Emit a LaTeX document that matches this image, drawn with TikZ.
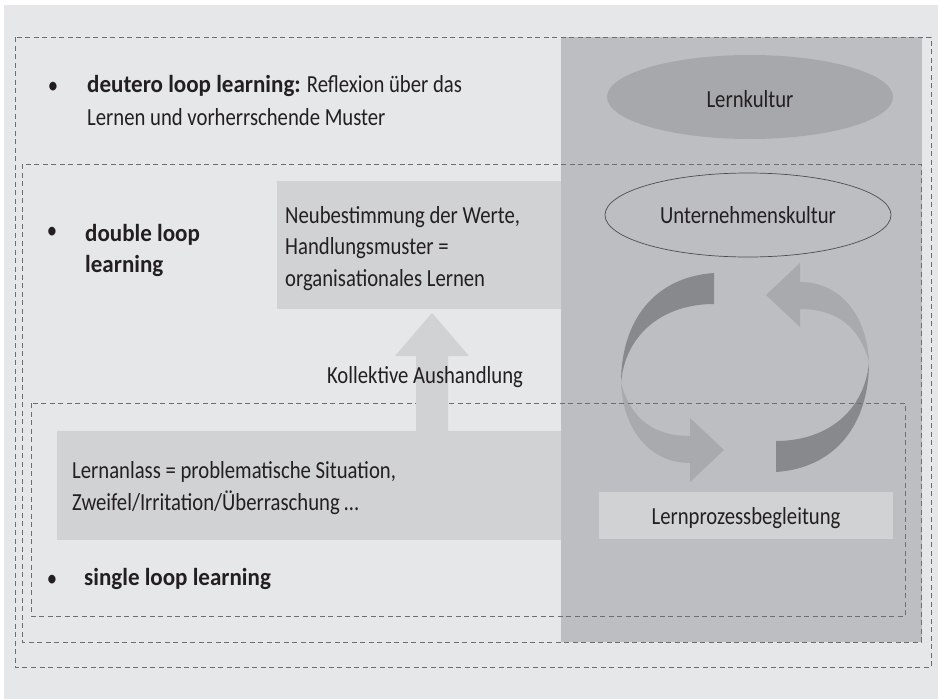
\documentclass[tikz,border=0pt]{standalone}
\usepackage{fontspec}
\setmainfont{Carlito}[FakeStretch=0.845,BoldFeatures={FakeStretch=0.94}]
\usetikzlibrary{shapes.geometric,calc}
\definecolor{bgc}{HTML}{E6E7E8}
\definecolor{panelc}{HTML}{BDBEC1}
\definecolor{boxc}{HTML}{D1D2D4}
\definecolor{lkc}{HTML}{A7A8AB}
\definecolor{darkrib}{HTML}{88898C}
\definecolor{lightrib}{HTML}{A9AAAD}
\definecolor{dashc}{HTML}{6D6E71}
\definecolor{txtc}{HTML}{231F20}
\begin{document}
\begin{tikzpicture}[x=1pt,y=-1pt,
  txt/.style={inner sep=0pt,anchor=base west,text=txtc,font=\fontsize{24.5}{31.5}\selectfont},
  ctxt/.style={txt,anchor=base},
  dashbox/.style={draw=dashc,line width=0.9pt,dash pattern=on 5pt off 3.5pt},
  boxn/.style={fill=boxc,inner sep=0pt,outer sep=0pt,anchor=north west},
  ell/.style={ellipse,inner sep=0pt,minimum width=286pt,minimum height=84pt}]
\useasboundingbox (0,0) rectangle (938,699);
\fill[white] (0,0) rectangle (938,699);
\fill[bgc] (4,5) rectangle (938,699);
% right panel
\fill[panelc] (561,37) rectangle (922,642);
% ellipses
\node[ell,fill=lkc] (lk) at (750,97) {};
\node[ell,draw=txtc!80,line width=0.7pt] (uk) at (748,215) {};
% ribbon cycle
\begin{scope}
\fill[darkrib] (714,273) .. controls (655,277) and (621,320) .. (621,383)
  .. controls (625,335) and (662,304) .. (714,304) -- cycle;
\fill[lightrib] (621,383) .. controls (623,430) and (650,463) .. (690,463)
  -- (690,482) -- (724,450) -- (690,418) -- (690,436)
  .. controls (655,436) and (631,420) .. (621,383) -- cycle;
\end{scope}
\begin{scope}[rotate around={180:(745,372.5)}]
\fill[darkrib] (714,273) .. controls (655,277) and (621,320) .. (621,383)
  .. controls (625,335) and (662,304) .. (714,304) -- cycle;
\fill[lightrib] (621,383) .. controls (623,430) and (650,463) .. (690,463)
  -- (690,482) -- (724,450) -- (690,418) -- (690,436)
  .. controls (655,436) and (631,420) .. (621,383) -- cycle;
\end{scope}
% dashed frames
\draw[dashbox] (15,37) rectangle (931,667);
\draw[dashbox] (22,164) rectangle (921,642);
\draw[dashbox] (31,403) rectangle (905,616);
% boxes
\node[boxn,minimum width=284pt,minimum height=128pt] (neu) at (277,181) {};
\node[boxn,minimum width=504pt,minimum height=109pt] (lan) at (57,431) {};
\node[boxn,minimum width=294pt,minimum height=47pt] (lpb) at (599,492) {};
% up arrow from Lernanlass to Neubestimmung
\coordinate (ua0) at ($(lan.north west)+(375,0)$);
\coordinate (ua1) at ($(neu.south west)+(155,4)$);
\fill[boxc] ($(ua0)+(-16,0)$) -- ($(ua1)+(-16,43)$) -- ($(ua1)+(-37,43)$) -- (ua1)
  -- ($(ua1)+(37,43)$) -- ($(ua1)+(16,43)$) -- ($(ua0)+(16,0)$) -- cycle;
% texts
\node[ctxt] (b1) at (53,93) {\textbullet};
\node[txt] (t1a) at (87,92) {\textbf{deutero loop learning:} Reflexion über das};
\node[txt] (t1b) at (87,125) {Lernen und vorherrschende Muster};
\node[ctxt] (b2) at (52,238) {\textbullet};
\node[txt] (t2a) at (85,241) {\textbf{double loop}};
\node[txt] (t2b) at (85,272) {\textbf{learning}};
\node[txt] (n1) at (285,223) {Neubestimmung der Werte,};
\node[txt] (n2) at (285,254.5) {Handlungsmuster =};
\node[txt] (n3) at (285,286) {organisationales Lernen};
\node[ctxt] (ka) at (425,383) {Kollektive Aushandlung};
\node[txt] (l1) at (72,478) {Lernanlass = problematische Situation,};
\node[txt] (l2) at (72,510) {Zweifel/Irritation/Überraschung …};
\node[ctxt] (b3) at (52,586) {\textbullet};
\node[txt] (t3) at (84,585) {\textbf{single loop learning}};
\node[ctxt] (lkt) at (lk.center |- 0,107) {Lernkultur};
\node[ctxt] (ukt) at (uk.center |- 0,223) {Unternehmenskultur};
\node[ctxt] (lpt) at (lpb.center |- 0,524) {Lernprozessbegleitung};
\end{tikzpicture}
\end{document}
